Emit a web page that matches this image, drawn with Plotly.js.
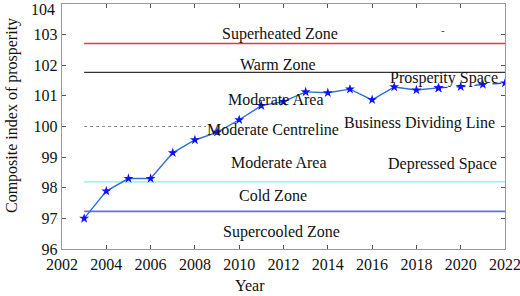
<!DOCTYPE html>
<html><head><meta charset="utf-8">
<script src="https://cdn.plot.ly/plotly-3.0.1.min.js"></script>
<style>body{margin:0;background:#fff}#chart{width:520px;height:296px}</style>
</head><body><div id="chart"></div>
<script>
// Data
const yearsActual = [2003,2004,2005,2006,2007,2008,2009,2010,2011,2012,2013,2014,2015,2016,2017,2018,2019];
const indexActual = [97.0,97.89,98.3,98.3,99.14,99.56,99.81,100.22,100.68,100.81,101.13,101.10,101.22,100.87,101.29,101.19,101.26];
const yearsForecast = [2019,2020,2021,2022];
const indexForecast = [101.26,101.30,101.37,101.42];
const zoneLineYears = [2003,2022];
const superheatedLevel = 102.71;
const warmLevel = 101.77;
const centreLevel = 100.0;
const centreLineYears = [2003,2008.5];
const coldLevel = 98.19;
const supercooledLevel = 97.23;
const xTicks = [2002,2004,2006,2008,2010,2012,2014,2016,2018,2020,2022];
const yTicks = [96,97,98,99,100,101,102,103,104];
const yTopLabel = '104';

const FONT = 'Liberation Serif';
function hline(xs, level, color, dash, width){
  return {x: xs, y: xs.map(()=>level), mode:'lines', line:{color:color, width:width||1.3, dash:dash||'solid'}, hoverinfo:'skip', showlegend:false};
}
const traces = [
  hline(zoneLineYears, superheatedLevel, '#e8383a'),
  hline(zoneLineYears, warmLevel, '#333333'),
  hline(centreLineYears, centreLevel, '#888888', 'dot', 1),
  hline(zoneLineYears, coldLevel, '#80eef2'),
  hline(zoneLineYears, supercooledLevel, '#6a6af0', 'solid', 1.6),
  {x: yearsActual, y: indexActual, mode:'lines+markers', line:{color:'#2f6fd0', width:1.4},
   marker:{symbol:'star', size:7.5, color:'#1010ff'}, showlegend:false},
  {x: yearsForecast, y: indexForecast, mode:'lines+markers', line:{color:'#1a3cff', width:1.4, dash:'dash'},
   marker:{symbol:'star', size:7.5, color:'#1010ff'}, showlegend:false}
];
function ann(text, x, y){
  return {text:text, x:x, y:y, xref:'x', yref:'y', showarrow:false, xanchor:'center', yanchor:'middle', font:{family:FONT, size:16, color:'#111'}};
}
const axisCommon = {ticks:'inside', ticklen:4, tickcolor:'#555', showline:true, linecolor:'#999', linewidth:1.3,
  mirror:'ticks', showgrid:false, zeroline:false, ticklabeloverflow:'allow',
  tickfont:{family:FONT, size:16, color:'#111'}};
const layout = {
  width:520, height:296,
  margin:{l:62, r:15, t:4, b:47},
  paper_bgcolor:'#fff', plot_bgcolor:'#fff',
  font:{family:FONT, size:16, color:'#111'},
  xaxis:Object.assign({range:[2002,2022], tickvals:xTicks, ticktext:xTicks.map(String)}, axisCommon),
  yaxis:Object.assign({range:[96,104], tickvals:yTicks,
        ticktext:yTicks.map(v => String(v) === yTopLabel ? '' : String(v))}, axisCommon),
  annotations:[
    ann('Superheated Zone', 2011.84, 103.01),
    ann('Warm Zone', 2011.75, 102.04),
    ann('Moderate Area', 2011.66, 100.87),
    ann('Moderate Centreline', 2011.53, 99.9),
    ann('Business Dividing Line', 2018.16, 100.12),
    ann('Prosperity Space', 2019.25, 101.58),
    ann('Moderate Area', 2011.8, 98.82),
    ann('Depressed Space', 2019.2, 98.76),
    ann('Cold Zone', 2011.53, 97.75),
    ann('Supercooled Zone', 2011.93, 96.55),
    {text:yTopLabel, x:-0.011, y:1, xref:'paper', yref:'paper', xanchor:'right', yanchor:'top', yshift:5, showarrow:false, font:{family:FONT, size:16, color:'#111'}},
    {text:'-', x:2019.2, y:103.16, xref:'x', yref:'y', showarrow:false, font:{family:FONT, size:11, color:'#333'}},
    {text:'Year', x:(250-62)/443, y:(249-285)/245, xref:'paper', yref:'paper', xanchor:'center', yanchor:'middle', showarrow:false, font:{family:FONT, size:16, color:'#111'}},
    {text:'Composite index of prosperity', x:(12-62)/443, y:(249-116)/245, xref:'paper', yref:'paper', xanchor:'center', yanchor:'middle', textangle:-90, showarrow:false, font:{family:FONT, size:16, color:'#111'}}
  ]
};
Plotly.newPlot('chart', traces, layout, {displayModeBar:false, staticPlot:true});
</script></body></html>
